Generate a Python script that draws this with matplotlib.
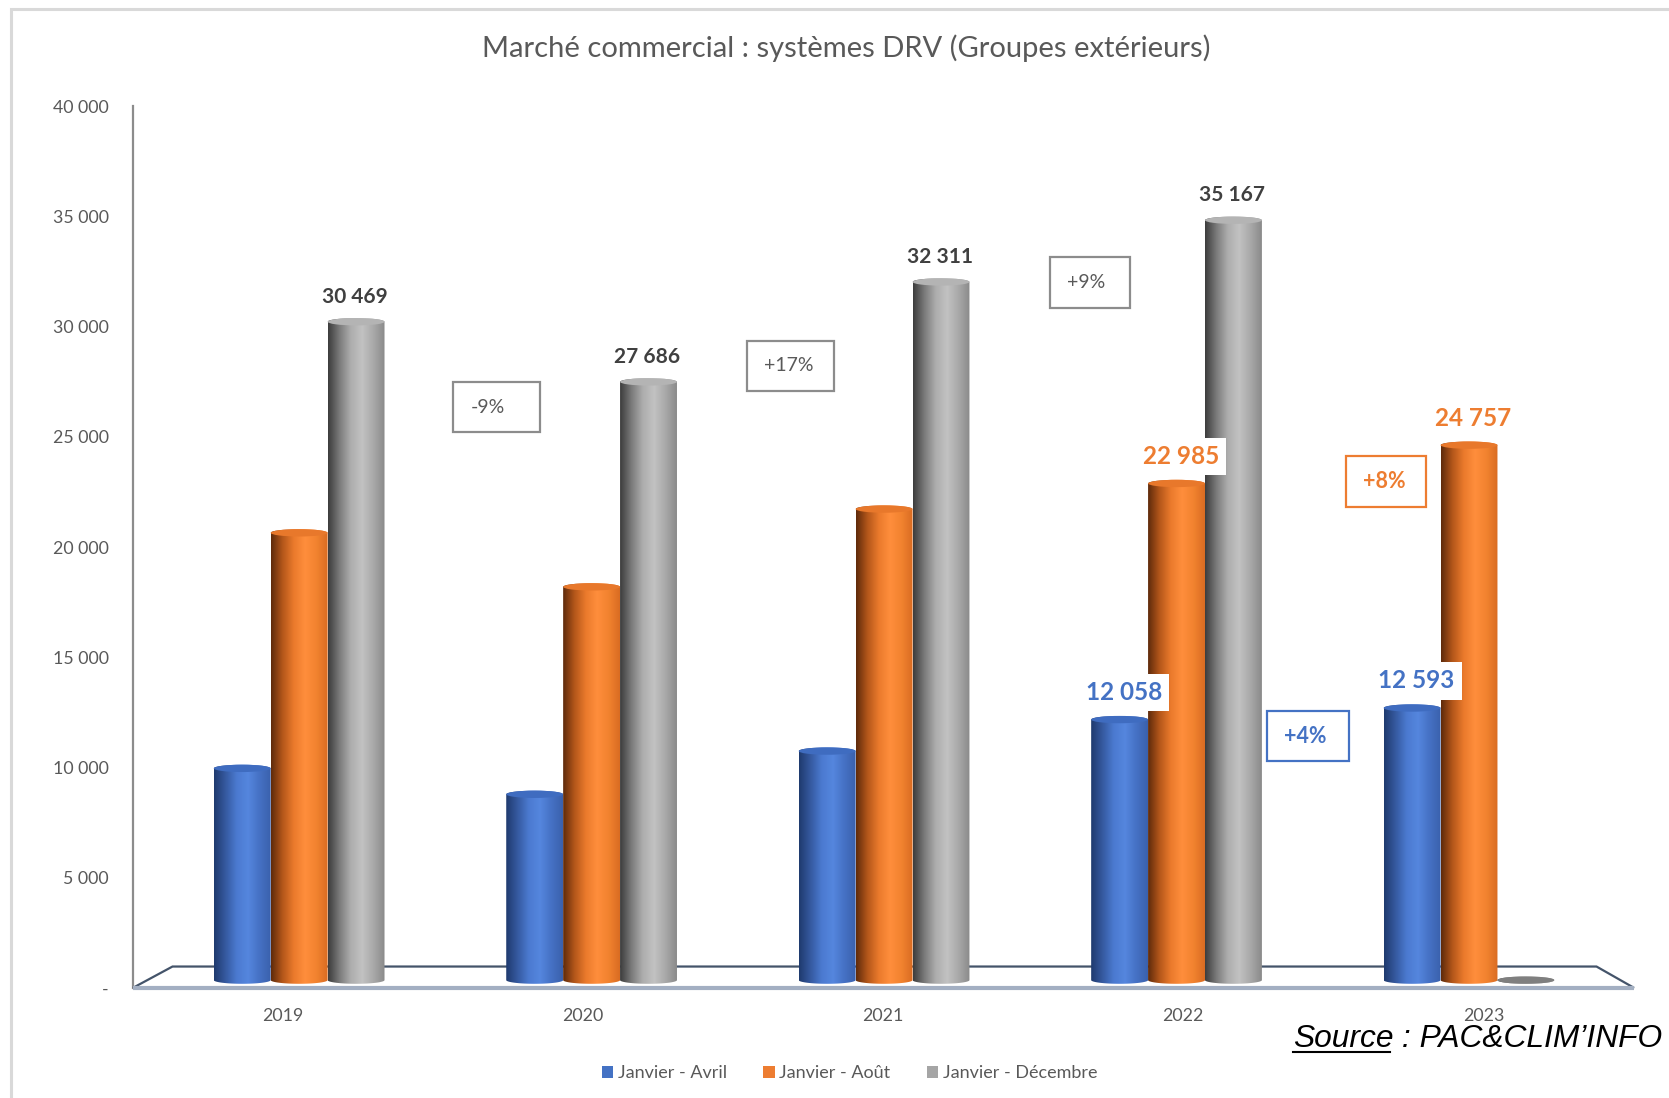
import numpy as np
import matplotlib
matplotlib.use("Agg")
import matplotlib.pyplot as plt
from matplotlib.colors import LinearSegmentedColormap
from matplotlib.patches import Ellipse, Rectangle, Patch, Polygon
from matplotlib.lines import Line2D

# données
annees = ["2019", "2020", "2021", "2022", "2023"]
series = ["Janvier - Avril", "Janvier - Août", "Janvier - Décembre"]
janv_avril = [9800, 8600, 10600, 12058, 12593]
janv_aout = [20700, 18200, 21800, 22985, 24757]
janv_dec = [30469, 27686, 32311, 35167, 0]

plt.rcParams['font.family'] = ['Lato', 'DejaVu Sans']

GRIS_TXT = '#595959'
BLEU, ORANGE, GRIS = '#4472C4', '#ED7D31', '#A5A5A5'

degrades = {
    'bleu': ['#1f3a6e', '#35599f', '#4b7ad0', '#5586de', '#4571c4', '#3a61ad'],
    'orange': ['#5e2a0b', '#b3561a', '#ea7a2c', '#ff8e3c', '#f2832f', '#d96c22'],
    'gris': ['#3c3c3c', '#7a7a7a', '#adadad', '#c2c2c2', '#a9a9a9', '#8a8a8a'],
}
chapeaux = {'bleu': '#3f6cc0', 'orange': '#e8782b', 'gris': '#b4b4b4'}


def cylindre(ax, xc, h, w, nom, ry, z):
    cmap = LinearSegmentedColormap.from_list(nom, degrades[nom])
    t = np.linspace(np.pi, 2 * np.pi, 40)
    bas = np.column_stack([xc + w / 2 * np.cos(t), ry * np.sin(t)])
    t2 = np.linspace(0, np.pi, 40)
    haut = np.column_stack([xc + w / 2 * np.cos(t2), h + ry * np.sin(t2)])
    clip = Polygon(np.vstack([bas, haut]), closed=True, facecolor='none',
                   edgecolor='none', zorder=z)
    ax.add_patch(clip)
    im = ax.imshow(np.linspace(0, 1, 256).reshape(1, -1), cmap=cmap,
                   extent=(xc - w / 2, xc + w / 2, -ry, h + ry), aspect='auto',
                   zorder=z, interpolation='bilinear')
    im.set_clip_path(clip)
    cap = chapeaux[nom] if h > 0 else '#7f7f7f'
    ax.add_patch(Ellipse((xc, h), w, 2 * ry, facecolor=cap, edgecolor='none',
                         zorder=z + 0.1))


fig = plt.figure(figsize=(16.69, 10.98), dpi=100)
# axe des graduations (perspective Excel : échelle un peu plus haute que les barres)
ax_t = fig.add_axes([0.0797, 0.10036, 0.8993, 0.80274])
ax = fig.add_axes([0.0797, 0.10027, 0.8993, 0.79427])
ax.patch.set_alpha(0)

w = 0.1946
ry = 170
x = np.arange(len(annees))

for dx, vals, nom, z in [(-w, janv_avril, 'bleu', 3), (0, janv_aout, 'orange', 4),
                         (w, janv_dec, 'gris', 5)]:
    for xi, v in zip(x, vals):
        cylindre(ax, xi + dx, v, w, nom, ry, z)

# plancher 3D
xl, xr = -0.568, 4.564
ax.add_patch(Polygon([(xl, -356), (-0.433, 629), (4.436, 629), (xr, -356)], closed=True,
                     facecolor='white', edgecolor='#44546a', lw=1.6, zorder=1, clip_on=False))
ax.plot([xl, xr], [-356, -356], color='#a3afc2', lw=3, zorder=2, clip_on=False,
        solid_capstyle='butt')

ax.set_xlim(xl, xr)
ax.set_ylim(-360, 40000)

# étiquettes de données
for xi, v in zip(x, janv_dec):
    if v > 0:
        ax.annotate(f"{v:,}".replace(",", " "), (xi + w, v), xytext=(-1, 18),
                    textcoords='offset points', ha='center', va='center',
                    fontsize=15, fontweight='bold', color='#404040', zorder=10)
for vals, dx, col in [(janv_avril, -w, BLEU), (janv_aout, 0, ORANGE)]:
    for xi, v in list(zip(x, vals))[3:]:
        ax.annotate(f"{v:,}".replace(",", " "), (xi + dx, v), xytext=(3, 19.5),
                    textcoords='offset points', ha='center', va='center',
                    fontsize=17.5, fontweight='bold', color=col, zorder=10,
                    bbox=dict(boxstyle='square,pad=0.3', fc='white', ec='none'))

# évolutions
evol = [
    (janv_dec[1] / janv_dec[0] - 1, GRIS_TXT, '#8c8c8c', 'normal', (0.5275, 25357, 0.822, 27675)),
    (janv_dec[2] / janv_dec[1] - 1, GRIS_TXT, '#8c8c8c', 'normal', (1.532, 27282, 1.830, 29596)),
    (janv_dec[3] / janv_dec[2] - 1, GRIS_TXT, '#8c8c8c', 'normal', (2.569, 31123, 2.842, 33488)),
    (janv_aout[4] / janv_aout[3] - 1, ORANGE, ORANGE, 'bold', (3.581, 21909, 3.854, 24274)),
    (janv_avril[4] / janv_avril[3] - 1, BLEU, BLEU, 'bold', (3.311, 10135, 3.588, 12454)),
]
for p, tc, ec, fw, (bx0, by0, bx1, by1) in evol:
    ax.add_patch(Rectangle((bx0, by0), bx1 - bx0, by1 - by0, facecolor='white',
                           edgecolor=ec, lw=1.6, zorder=8))
    ax.text(bx0 + 0.058, (by0 + by1) / 2, f"{p * 100:+.0f}%", ha='left', va='center',
            fontsize=15.5 if fw == 'bold' else 14, fontweight=fw, color=tc, zorder=9)

# axes
for s in ['top', 'right', 'bottom', 'left']:
    ax.spines[s].set_visible(False)
    if s != 'left':
        ax_t.spines[s].set_visible(False)
ax_t.set_ylim(0, 40000)
ax_t.set_xlim(xl, xr)
ax_t.spines['left'].set_color('#8c8c8c')
ax_t.spines['left'].set_linewidth(1.6)

yt = np.arange(0, 40001, 5000)
ax_t.set_yticks(yt)
ax_t.set_yticklabels(["-" if v == 0 else f"{v:,}".replace(",", " ") for v in yt])
ax_t.set_xticks([])
ax.set_yticks([])
ax.set_xticks([i * 1.026 - 0.055 for i in x])
ax.set_xticklabels(annees)
ax_t.tick_params(axis='y', length=0, pad=17.5, labelsize=12.8, labelcolor=GRIS_TXT)
ax.tick_params(axis='x', length=0, pad=14.5, labelsize=12.8, labelcolor=GRIS_TXT)

fig.text(0.507, 0.9563, "Marché commercial : systèmes DRV (Groupes extérieurs)",
         ha='center', va='center', fontsize=21, color=GRIS_TXT)

poignees = [Patch(facecolor=c, edgecolor='none') for c in [BLEU, ORANGE, GRIS]]
fig.legend(poignees, series, loc='center', bbox_to_anchor=(0.509, 0.0228), ncol=3,
           frameon=False, handlelength=0.65, handleheight=0.65, handletextpad=0.25,
           columnspacing=2.0, fontsize=13, labelcolor=GRIS_TXT)

# cadre
fig.add_artist(Rectangle((0.0066, -0.2), 1.5, 1.1918, transform=fig.transFigure,
                         fill=False, edgecolor='#d9d9d9', lw=2.2))

# source
ysrc = 0.0461
t1 = fig.text(0.7747, ysrc, "Source", ha='left', va='baseline', fontsize=22.9,
              fontstyle='italic', family=['Liberation Sans', 'DejaVu Sans'], color='black')
fig.canvas.draw()
bb = t1.get_window_extent(fig.canvas.get_renderer())
inv = fig.transFigure.inverted()
(fx0, _), (fx1, _) = inv.transform([[bb.x0, bb.y0], [bb.x1, bb.y1]])
fig.text(fx1, ysrc, " : PAC&CLIM’INFO", ha='left', va='baseline', fontsize=22.9,
         fontstyle='italic', family=['Liberation Sans', 'DejaVu Sans'], color='black')
fig.add_artist(Line2D([fx0, fx1 - 0.002], [0.0423, 0.0423], color='black', lw=1.5))

fig.savefig("out.png", dpi=100)
